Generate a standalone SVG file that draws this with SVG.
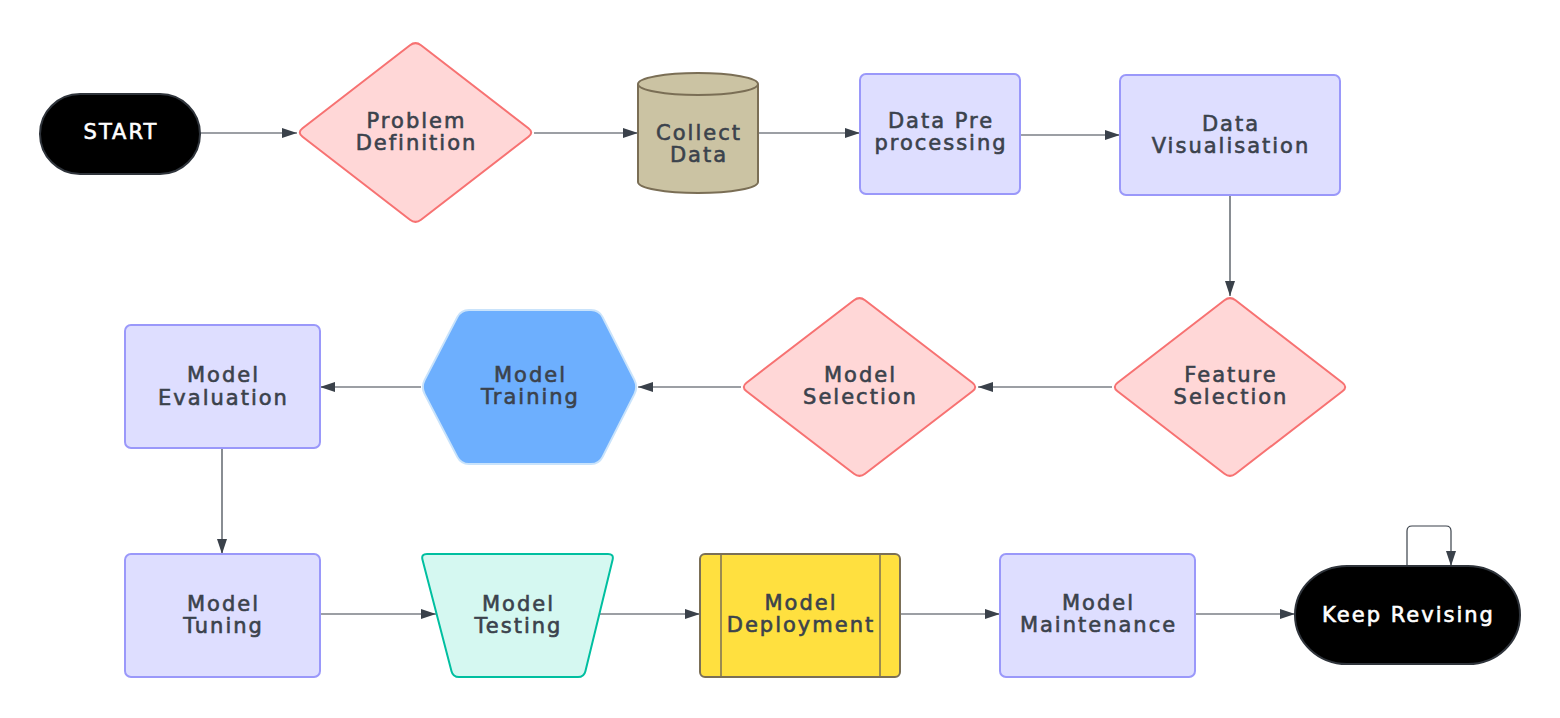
<svg xmlns="http://www.w3.org/2000/svg" width="1560" height="718" viewBox="0 0 1560 718">
<defs>
<marker id="ah" markerWidth="15" markerHeight="10" refX="15" refY="5" orient="auto" markerUnits="userSpaceOnUse">
<path d="M0,0 L15,5 L0,10 z" fill="#3a414a"/>
</marker>
<style>
.lbl{font-family:"DejaVu Sans","Liberation Sans",sans-serif;font-size:21px;letter-spacing:2px;fill:#3b424c;stroke:#3b424c;stroke-width:0.6px;text-anchor:middle}
.wht{fill:#ffffff;stroke:#ffffff}
.proc{fill:#dedeff;stroke:#9a98fa;stroke-width:2}
.dec{fill:#ffd7d7;stroke:#f77272;stroke-width:2}
.term{fill:#000000;stroke:#2f343b;stroke-width:2}
.con{fill:none;stroke:#3a414a;stroke-width:1.2;marker-end:url(#ah)}
</style>
</defs>
<rect width="1560" height="718" fill="#ffffff"/>
<g id="connectors">
<path class="con" d="M200,133 L297,133"/>
<path class="con" d="M534,133 L638,133"/>
<path class="con" d="M758,133 L860,133"/>
<path class="con" d="M1020,135 L1120,135"/>
<path class="con" d="M1230,195 L1230,296"/>
<path class="con" d="M1112,387 L978,387"/>
<path class="con" d="M741,387 L638,387"/>
<path class="con" d="M421,387 L320,387"/>
<path class="con" d="M222,448 L222,554"/>
<path class="con" d="M320,614 L436,614"/>
<path class="con" d="M599,614 L700,614"/>
<path class="con" d="M900,614 L1000,614"/>
<path class="con" d="M1195,614 L1295,614"/>
<path class="con" d="M1407,566 L1407,531 Q1407,526 1412,526 L1446,526 Q1451,526 1451,531 L1451,566"/>
</g>
<g id="start">
<rect class="term" x="40" y="94" width="160" height="80" rx="40"/>
<text class="lbl wht" x="121" y="139">START</text>
</g>
<g id="problem-definition">
<path class="dec" d="M421.04,45.28 L528.46,128.22 Q534,132.5 528.46,136.78 L421.04,219.72 Q415.5,224 409.96,219.72 L302.54,136.78 Q297,132.5 302.54,128.22 L409.96,45.28 Q415.5,41 421.04,45.28 Z"/>
<text class="lbl" x="416.5" y="128">Problem</text>
<text class="lbl" x="416.5" y="150">Definition</text>
</g>
<g id="collect-data">
<path d="M638,84 A60,11 0 0 1 758,84 L758,182 A60,11 0 0 1 638,182 Z" fill="#cbc3a3" stroke="#7a6e55" stroke-width="2"/>
<path d="M638,84 A60,11 0 0 0 758,84" fill="none" stroke="#7a6e55" stroke-width="2"/>
<text class="lbl" x="699" y="140">Collect</text>
<text class="lbl" x="699" y="162">Data</text>
</g>
<g id="data-preprocessing">
<rect class="proc" x="860" y="74" width="160" height="120" rx="6"/>
<text class="lbl" x="941" y="128">Data Pre</text>
<text class="lbl" x="941" y="150">processing</text>
</g>
<g id="data-visualisation">
<rect class="proc" x="1120" y="75" width="220" height="120" rx="6"/>
<text class="lbl" x="1231" y="131">Data</text>
<text class="lbl" x="1231" y="153">Visualisation</text>
</g>
<g id="feature-selection">
<path class="dec" d="M1235.54,300.27 L1342.46,382.73 Q1348,387 1342.46,391.27 L1235.54,473.73 Q1230,478 1224.46,473.73 L1117.54,391.27 Q1112,387 1117.54,382.73 L1224.46,300.27 Q1230,296 1235.54,300.27 Z"/>
<text class="lbl" x="1231" y="382">Feature</text>
<text class="lbl" x="1231" y="404">Selection</text>
</g>
<g id="model-selection">
<path class="dec" d="M865.04,300.27 L972.46,382.73 Q978,387 972.46,391.27 L865.04,473.73 Q859.5,478 853.96,473.73 L746.54,391.27 Q741,387 746.54,382.73 L853.96,300.27 Q859.5,296 865.04,300.27 Z"/>
<text class="lbl" x="860.5" y="382">Model</text>
<text class="lbl" x="860.5" y="404">Selection</text>
</g>
<g id="model-training">
<path d="M469,310 L591,310 Q599,310 602.6,317.1 L634.4,379.9 Q638,387 634.4,394.1 L602.6,456.9 Q599,464 591,464 L469,464 Q461,464 457.3,456.9 L424.7,394.1 Q421,387 424.7,379.9 L457.3,317.1 Q461,310 469,310 Z" fill="#6daffe" stroke="#c9e3fb" stroke-width="2"/>
<text class="lbl" x="530.5" y="382">Model</text>
<text class="lbl" x="530.5" y="404">Training</text>
</g>
<g id="model-evaluation">
<rect class="proc" x="125" y="325" width="195" height="123" rx="6"/>
<text class="lbl" x="223.5" y="382">Model</text>
<text class="lbl" x="223.5" y="405">Evaluation</text>
</g>
<g id="model-tuning">
<rect class="proc" x="125" y="554" width="195" height="123" rx="6"/>
<text class="lbl" x="223.5" y="611">Model</text>
<text class="lbl" x="223.5" y="633">Tuning</text>
</g>
<g id="model-testing">
<path d="M427,554 L608,554 Q614,554 612.6,559.8 L585.4,671.2 Q584,677 578,677 L459,677 Q453,677 451.5,671.2 L422.5,559.8 Q421,554 427,554 Z" fill="#d5f8f1" stroke="#00bfa0" stroke-width="2"/>
<text class="lbl" x="518.5" y="611">Model</text>
<text class="lbl" x="518.5" y="633">Testing</text>
</g>
<g id="model-deployment">
<rect x="700" y="554" width="200" height="123" rx="5" fill="#ffe03f" stroke="#7b6f56" stroke-width="2"/>
<line x1="721" y1="554" x2="721" y2="677" stroke="#7b6f56" stroke-width="1.5"/>
<line x1="880" y1="554" x2="880" y2="677" stroke="#7b6f56" stroke-width="1.5"/>
<text class="lbl" x="801" y="610">Model</text>
<text class="lbl" x="801" y="632">Deployment</text>
</g>
<g id="model-maintenance">
<rect class="proc" x="1000" y="554" width="195" height="123" rx="6"/>
<text class="lbl" x="1098.5" y="610">Model</text>
<text class="lbl" x="1098.5" y="632">Maintenance</text>
</g>
<g id="keep-revising">
<rect class="term" x="1295" y="566" width="225" height="98" rx="52" ry="49"/>
<text class="lbl wht" x="1408.5" y="622">Keep Revising</text>
</g>
</svg>
